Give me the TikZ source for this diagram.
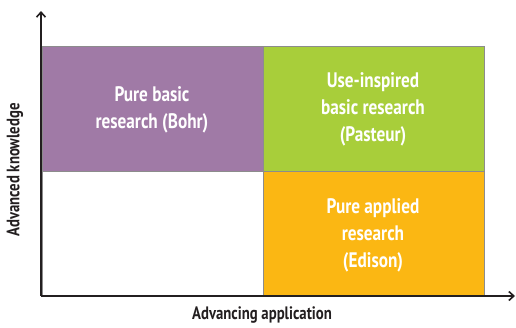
\documentclass[tikz,border=0pt]{standalone}
\usepackage{fontspec}
\setmainfont{PT Sans}[FakeStretch=0.82]
\usetikzlibrary{arrows.meta}
\definecolor{cpurple}{HTML}{A07AA6}
\definecolor{cgreen}{HTML}{A8CE3A}
\definecolor{corange}{HTML}{FBB713}
\definecolor{cborder}{HTML}{8C8C8C}
\tikzset{
  cell/.style={draw=cborder, line width=1pt},
  celltext/.style={text=white, align=center, font=\fontsize{21}{27}\selectfont\bfseries},
  axis/.style={line width=1.6pt, draw={rgb,255:red,35;green,31;blue,32}, -{Straight Barb[length=5pt,width=9pt]}},
  axlabel/.style={font=\fontsize{18}{20}\selectfont\bfseries, text={rgb,255:red,35;green,31;blue,32}}
}
\begin{document}
\begin{tikzpicture}[x=1pt,y=-1pt]
\useasboundingbox (0,0) rectangle (516,327);
\fill[white] (0,0) rectangle (516,327);
\draw[cell, fill=cpurple] (42,46) rectangle (263,171);
\draw[cell, fill=cgreen] (263,46) rectangle (484,171);
\draw[cell, fill=white] (42,171) rectangle (263,296);
\draw[cell, fill=corange] (263,171) rectangle (484,296);
\node[celltext] (pb) at (152,110) {Pure basic\\research (Bohr)};
\node[celltext] (ui) at (373,109) {Use-inspired\\basic research\\(Pasteur)};
\node[celltext] (pa) at (373,235) {Pure applied\\research\\(Edison)};
\coordinate (o) at (41,296);
\coordinate (ytip) at (41,11);
\coordinate (xtip) at (515,296);
\draw[axis] (o) -- (ytip);
\draw[axis] (o) -- (xtip);
\node[axlabel] (xl) at (262,315) {Advancing application};
\node[axlabel, rotate=90] (yl) at (15,170) {Advanced knowledge};
\end{tikzpicture}
\end{document}
